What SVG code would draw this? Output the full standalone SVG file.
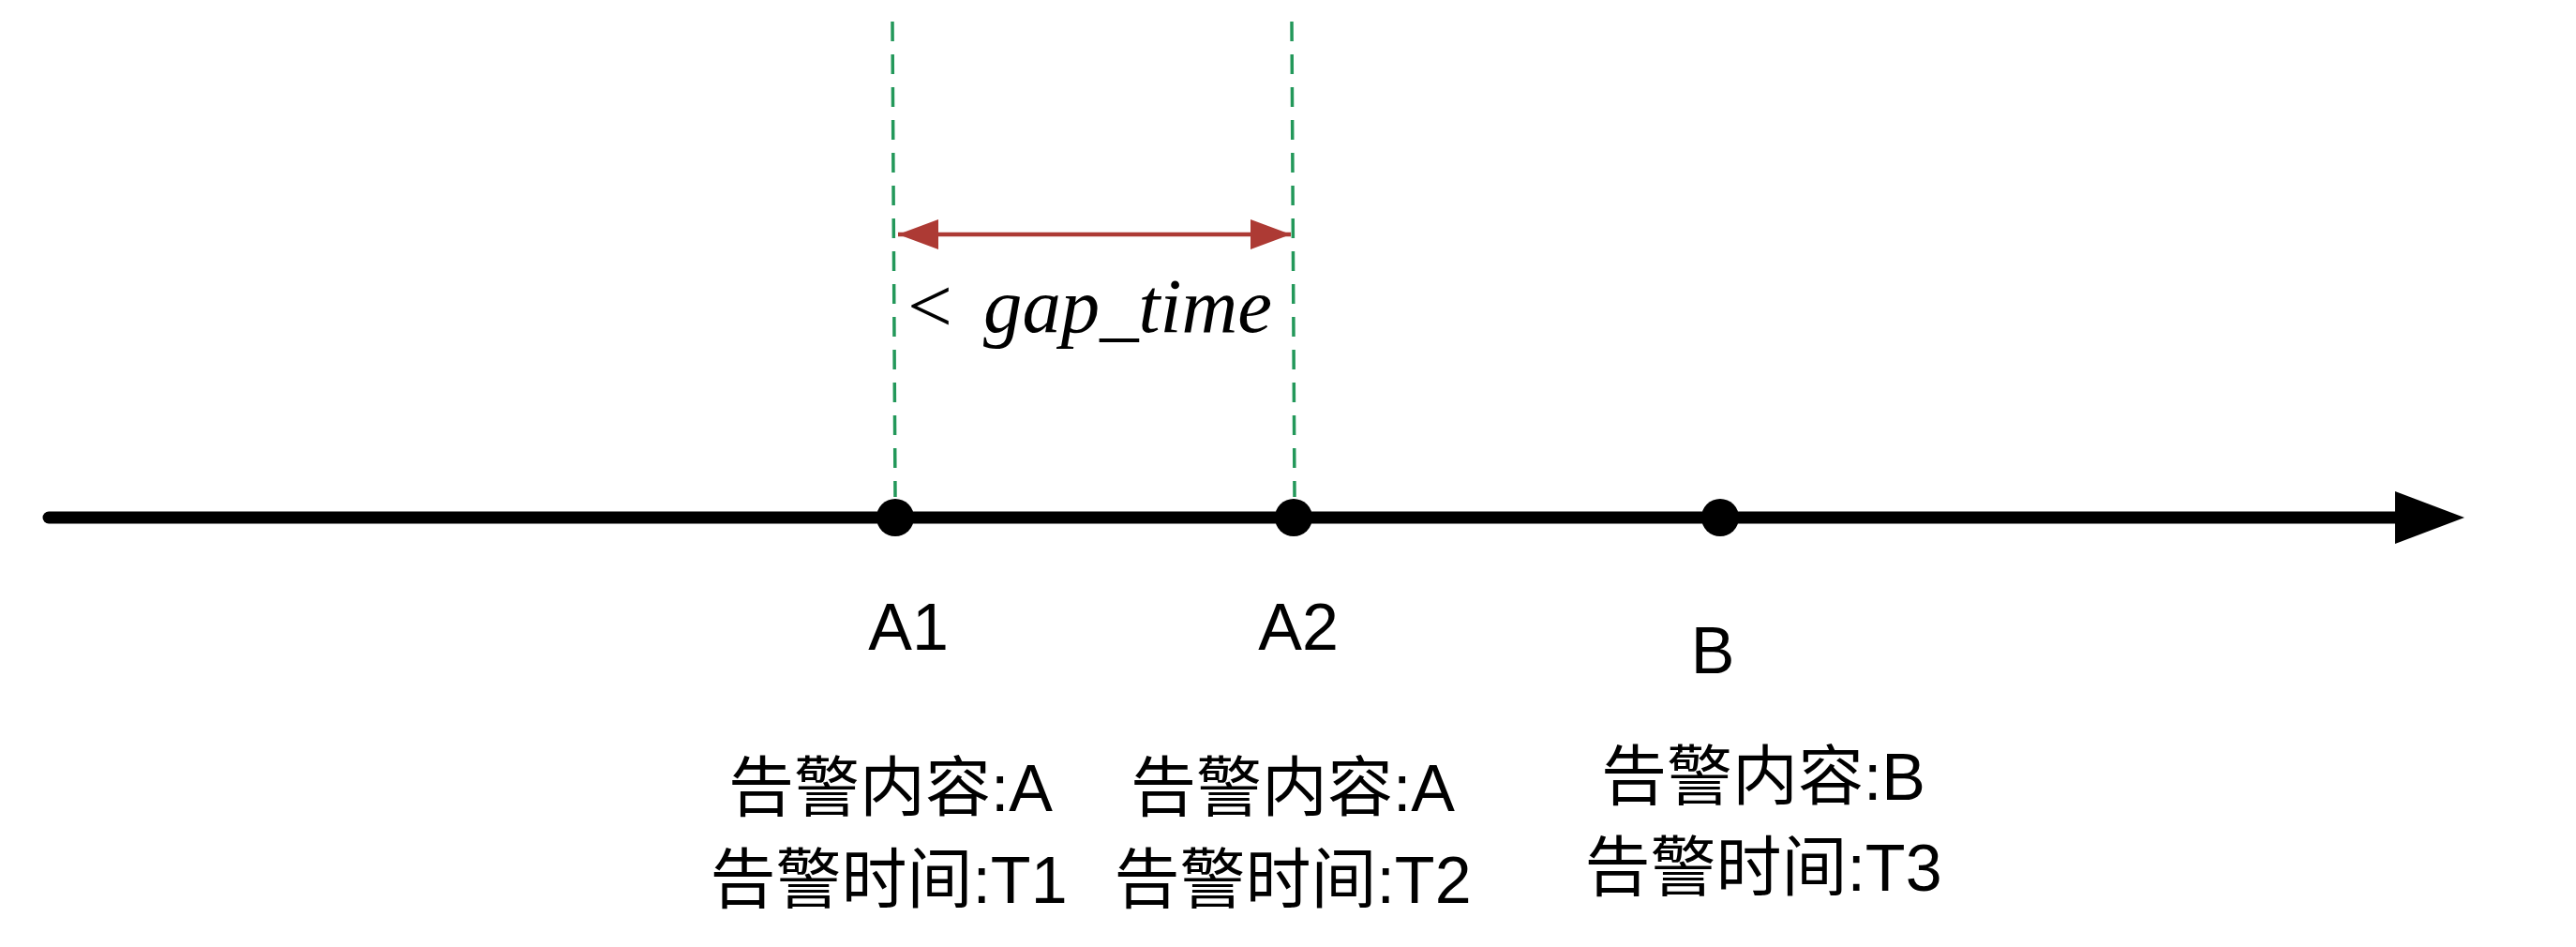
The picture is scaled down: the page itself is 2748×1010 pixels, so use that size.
<svg xmlns="http://www.w3.org/2000/svg" width="2748" height="1010" viewBox="0 0 2748 1010">
<style>
.lbl{font-family:"Liberation Sans","Noto Sans CJK SC",Arial,sans-serif;font-size:70px;fill:#000;text-anchor:middle}
.math{font-family:"Liberation Serif","DejaVu Serif",serif;font-size:82px;fill:#000}
.guide{stroke:#23985a;stroke-width:3.5;stroke-dasharray:21 14;fill:none}
.dot{fill:#000}
</style>
<defs>
<marker id="redHead" markerWidth="43" markerHeight="32" refX="43" refY="16" orient="auto-start-reverse" markerUnits="userSpaceOnUse">
<path d="M0,0 L43,16 L0,32 Z" fill="#ad3a34"/>
</marker>
<marker id="axisHead" markerWidth="74" markerHeight="56" refX="5" refY="28" orient="auto" markerUnits="userSpaceOnUse">
<path d="M0,0 L74,28 L0,56 Z" fill="#000"/>
</marker>
</defs>
<rect width="2748" height="1010" fill="#fff"/>
<g id="connectors">
<line x1="52" y1="552" x2="2560" y2="552" stroke="#000" stroke-width="13" stroke-linecap="round" marker-end="url(#axisHead)"/>
<line class="guide" x1="952" y1="23" x2="955" y2="530"/>
<line class="guide" x1="1378" y1="23" x2="1381" y2="530"/>
<line x1="958" y1="250" x2="1377" y2="250" stroke="#ad3a34" stroke-width="4.5" marker-start="url(#redHead)" marker-end="url(#redHead)"/>
</g>
<g id="gap-label">
<text class="math" x="968" y="354"><tspan textLength="48" lengthAdjust="spacingAndGlyphs">&lt;</tspan><tspan x="1049" font-style="italic" textLength="308" lengthAdjust="spacingAndGlyphs">gap_time</tspan></text>
</g>
<g id="node-A1">
<circle class="dot" cx="955" cy="552" r="20"/>
<text class="lbl" x="969" y="693">A1</text>
<text class="lbl" x="950" y="865">告警内容:A</text>
<text class="lbl" x="948" y="963">告警时间:T1</text>
</g>
<g id="node-A2">
<circle class="dot" cx="1380" cy="552" r="20"/>
<text class="lbl" x="1385" y="693">A2</text>
<text class="lbl" x="1379" y="865">告警内容:A</text>
<text class="lbl" x="1379" y="963">告警时间:T2</text>
</g>
<g id="node-B">
<circle class="dot" cx="1835" cy="552" r="20"/>
<text class="lbl" x="1827" y="718">B</text>
<text class="lbl" x="1881" y="853">告警内容:B</text>
<text class="lbl" x="1881" y="950">告警时间:T3</text>
</g>
</svg>
